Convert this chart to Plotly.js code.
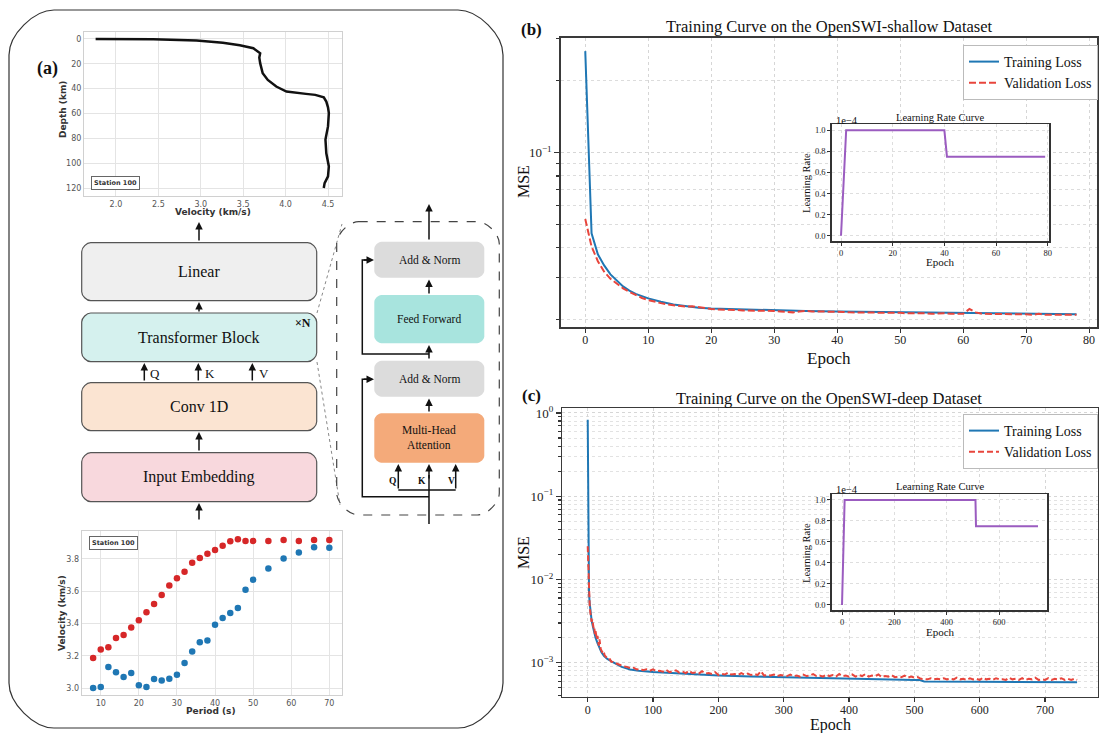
<!DOCTYPE html>
<html>
<head>
<meta charset="utf-8">
<script src="https://cdn.plot.ly/plotly-3.0.1.min.js"></script>
<style>html,body{margin:0;padding:0;background:#fff;}#chart{width:1099px;height:733px;}</style>
</head>
<body>
<div id="chart"></div>
<script>
// ---------------- DATA ----------------
// (a) velocity profile, Station 100
const depthVel = [1.76, 2.44, 2.95, 3.26, 3.46, 3.62, 3.70, 3.69, 3.70, 3.73, 3.79, 3.89, 4.01, 4.12, 4.24, 4.35, 4.40, 4.45, 4.48, 4.50, 4.51, 4.50, 4.47, 4.48, 4.51, 4.50, 4.46, 4.45];
const depthKm  = [0, 0.3, 1.3, 3, 5, 7.5, 11.5, 15, 19.5, 27.6, 33, 38.3, 42.3, 43.5, 44.2, 45.0, 45.8, 47, 50.4, 55, 59.7, 70.4, 81, 92, 102.6, 110.6, 116, 120];
// (a) dispersion curves, Station 100
const periods  = [8, 10, 12, 14, 16, 18, 20, 22, 24, 26, 28, 30, 32, 34, 36, 38, 40, 42, 44, 46, 48, 50, 54, 58, 62, 66, 70];
const phaseVel = [3.187, 3.239, 3.253, 3.31, 3.33, 3.376, 3.42, 3.47, 3.52, 3.576, 3.635, 3.68, 3.72, 3.775, 3.804, 3.83, 3.853, 3.88, 3.907, 3.92, 3.91, 3.91, 3.91, 3.915, 3.91, 3.915, 3.915];
const groupVel = [3.002, 3.008, 3.132, 3.099, 3.07, 3.095, 3.019, 3.008, 3.058, 3.049, 3.06, 3.084, 3.156, 3.228, 3.284, 3.296, 3.393, 3.434, 3.465, 3.496, 3.609, 3.67, 3.74, 3.802, 3.839, 3.87, 3.868];

// (b) OpenSWI-shallow
const shallowTrainEpoch = [0, 1, 2, 3, 4, 5, 6, 7, 8, 10, 12, 14, 16, 18, 20, 25, 30, 35, 40, 45, 50, 55, 60, 65, 70, 75, 78];
const shallowTrainLoss  = [0.266, 0.046, 0.0376, 0.0338, 0.031, 0.0291, 0.0276, 0.0265, 0.0257, 0.0246, 0.0238, 0.0232, 0.0228, 0.0225, 0.0223, 0.0221, 0.0219, 0.0218, 0.0217, 0.0216, 0.0215, 0.0214, 0.0214, 0.0213, 0.0212, 0.0211, 0.0211];
const shallowValEpoch = [0,1,2,3,4,5,6,7,8,9,10,11,12,13,14,15,16,17,18,19,20,21,22,23,24,25,26,27,28,29,30,31,32,33,34,35,36,37,38,39,40,41,42,43,44,45,46,47,48,49,50,51,52,53,54,55,56,57,58,59,60,61,62,63,64,65,66,67,68,69,70,71,72,73,74,75,76,77,78];
const shallowValLoss  = [0.0528,0.0405,0.0352,0.0318,0.0297,0.0283,0.0271,0.0262,0.0254,0.0247,0.0242,0.0238,0.0235,0.0232,0.0230,0.0228,0.0227,0.0228,0.0226,0.0223,0.0222,0.0221,0.0221,0.0220,0.0220,0.0219,0.0219,0.0219,0.0218,0.0218,0.0218,0.0217,0.0216,0.0215,0.0217,0.0218,0.0217,0.0217,0.0216,0.0216,0.0216,0.0216,0.0215,0.0215,0.0215,0.0215,0.0214,0.0215,0.0214,0.0214,0.0214,0.0213,0.0213,0.0214,0.0213,0.0212,0.0213,0.0213,0.0212,0.0212,0.0212,0.0222,0.0215,0.0212,0.0212,0.0211,0.0212,0.0211,0.0211,0.0211,0.0211,0.0210,0.0212,0.0210,0.0210,0.0210,0.0210,0.0210,0.0210];
const shallowLrEpoch = [0, 2, 40, 41, 79];
const shallowLr      = [0, 1.0, 1.0, 0.75, 0.75];

// (c) OpenSWI-deep
const deepTrainEpoch = [0, 1, 2, 3, 4, 5, 6, 8, 10, 12, 15, 18, 21, 25, 30, 37, 45, 52, 65, 78, 100, 125, 170, 200, 250, 300, 350, 400, 450, 500, 508, 515, 600, 700, 749];
const deepTrainLoss  = [0.83, 0.012, 0.0068, 0.0052, 0.0042, 0.0036, 0.0032, 0.0027, 0.0023, 0.0020, 0.00172, 0.0015, 0.00133, 0.0012, 0.00111, 0.00103, 0.00095, 0.00089, 0.00083, 0.0008, 0.00077, 0.00075, 0.00073, 0.0007, 0.00068, 0.000665, 0.00065, 0.00064, 0.00063, 0.00062, 0.00062, 0.000595, 0.00059, 0.000585, 0.00058];
const deepValEpoch = [0,1,2,3,4,5,6,7,8,9,10,11,12,13,14,15,16,17,18,19,20,22,24,26,28,30,32,34,36,38,40,
  45,50,55,60,65,70,75,80,85,90,95,100,105,110,115,120,125,130,135,140,145,150,155,160,165,170,175,180,185,190,195,
  200,205,210,215,220,225,230,235,240,245,250,255,260,265,270,275,280,285,290,295,300,305,310,315,320,325,330,335,340,345,
  350,355,360,365,370,375,380,385,390,395,400,405,410,415,420,425,430,435,440,445,450,455,460,465,470,475,480,485,490,495,
  500,505,510,515,520,525,530,535,540,545,550,555,560,565,570,575,580,585,590,595,600,605,610,615,620,625,630,635,640,645,
  650,655,660,665,670,675,680,685,690,695,700,705,710,715,720,725,730,735,740,745,749];
const deepValLoss = [0.025,0.0105,0.0062,0.0049,0.0040,0.0034,0.0031,0.0033,0.0028,0.0026,0.0027,0.0022,0.0024,0.0020,0.0019,0.0021,0.0017,0.0016,0.0019,0.00155,0.00145,0.00135,0.0014,0.00122,0.00118,0.00112,0.00108,0.0011,0.00103,0.00102,0.00099,
  0.00097,0.00093,0.0009,0.00089,0.00086,0.00087,0.00083,0.00084,0.00081,0.00083,0.0008,0.00083,0.00079,0.0008,0.00078,0.00082,0.00077,0.00078,0.00081,0.00076,0.00078,0.00075,0.0008,0.00075,0.00076,0.00074,0.00079,0.00074,0.00075,0.00073,0.00077,
  0.00071,0.00073,0.00072,0.00076,0.00072,0.00073,0.00071,0.00075,0.00072,0.00074,0.00071,0.00073,0.00071,0.00079,0.0007,0.00071,0.0007,0.00072,0.00069,0.00071,0.0007,0.00069,0.00072,0.00069,0.0007,0.00068,0.00072,0.00069,0.0007,0.00073,
  0.00069,0.0007,0.00068,0.00072,0.00069,0.00071,0.00068,0.00073,0.00069,0.0007,0.00068,0.00072,0.00068,0.00071,0.00069,0.00073,0.00068,0.0007,0.00069,0.00072,0.00067,0.00069,0.00068,0.00071,0.00067,0.00068,0.00067,0.0007,0.00066,0.00068,
  0.00066,0.00067,0.00064,0.00063,0.00063,0.00065,0.00063,0.00064,0.00063,0.00065,0.00063,0.00064,0.00063,0.00066,0.00063,0.00064,0.00062,0.00065,0.00063,0.00064,0.00062,0.00066,0.00063,0.00064,0.00062,0.00065,0.00063,0.00063,0.00062,0.00066,
  0.00063,0.00064,0.00062,0.00065,0.00062,0.00064,0.00063,0.00066,0.00062,0.00063,0.00062,0.00065,0.00062,0.00064,0.00063,0.00065,0.00062,0.00064,0.00062,0.00064,0.00062];
const deepLrEpoch = [0, 10, 510, 512, 749];
const deepLr      = [0, 1.0, 1.0, 0.75, 0.75];

// tick values
const depthXTicks = [2.0, 2.5, 3.0, 3.5, 4.0, 4.5];
const depthYTicks = [0, 20, 40, 60, 80, 100, 120];
const periodTicks = [10, 20, 30, 40, 50, 60, 70];
const dispYTicks  = [3.0, 3.2, 3.4, 3.6, 3.8];
const shallowXTicks = [0, 10, 20, 30, 40, 50, 60, 70, 80];
const shallowYTicks = [0.1];
const shallowYText  = ['10<sup>−1</sup>'];
const shallowYMinor = [0.02, 0.03, 0.04, 0.05, 0.06, 0.07, 0.08, 0.09, 0.2, 0.3];
const deepXTicks = [0, 100, 200, 300, 400, 500, 600, 700];
const deepYTicks = [1, 0.1, 0.01, 0.001];
const deepYText  = ['10<sup>0</sup>', '10<sup>−1</sup>', '10<sup>−2</sup>', '10<sup>−3</sup>'];
const deepYMinor = [0.0004,0.0005,0.0006,0.0007,0.0008,0.0009,0.002,0.003,0.004,0.005,0.006,0.007,0.008,0.009,0.02,0.03,0.04,0.05,0.06,0.07,0.08,0.09,0.2,0.3,0.4,0.5,0.6,0.7,0.8,0.9];
const insetYTicks = [0, 0.2, 0.4, 0.6, 0.8, 1.0];
const shallowInsetXTicks = [0, 20, 40, 60, 80];
const deepInsetXTicks = [0, 200, 400, 600];

// ---------------- HELPERS ----------------
const W = 1099, H = 733;
const X = p => p / W, Y = p => 1 - p / H;
const SERIF = 'Liberation Serif, Times New Roman, serif';
const SANS = 'DejaVu Sans, Arial, sans-serif';

function rr(x0, y0, x1, y1, r) {
  const k = 0.45 * r;
  const P = (x, y) => X(x).toFixed(5) + ',' + Y(y).toFixed(5);
  return 'M' + P(x0 + r, y0) + ' L' + P(x1 - r, y0) +
    ' C' + P(x1 - r + k, y0) + ' ' + P(x1, y0 + r - k) + ' ' + P(x1, y0 + r) +
    ' L' + P(x1, y1 - r) +
    ' C' + P(x1, y1 - r + k) + ' ' + P(x1 - r + k, y1) + ' ' + P(x1 - r, y1) +
    ' L' + P(x0 + r, y1) +
    ' C' + P(x0 + r - k, y1) + ' ' + P(x0, y1 - r + k) + ' ' + P(x0, y1 - r) +
    ' L' + P(x0, y0 + r) +
    ' C' + P(x0, y0 + r - k) + ' ' + P(x0 + r - k, y0) + ' ' + P(x0 + r, y0) + ' Z';
}
function box(x0, y0, x1, y1, r, fill, stroke, width, dash) {
  return {type: 'path', xref: 'paper', yref: 'paper', path: rr(x0, y0, x1, y1, r), fillcolor: fill,
    line: {color: stroke || 'rgba(0,0,0,0)', width: width || 0, dash: dash || 'solid'}, layer: 'above'};
}
function poly(pts, color, width, dash) {
  const s = pts.map((p, i) => (i ? 'L' : 'M') + X(p[0]).toFixed(5) + ',' + Y(p[1]).toFixed(5)).join(' ');
  return {type: 'path', xref: 'paper', yref: 'paper', path: s, line: {color: color || '#111', width: width || 1.5, dash: dash || 'solid'}};
}
function arrow(xt, yt, xh, yh) {
  return {x: X(xh), y: Y(yh), xref: 'paper', yref: 'paper', ax: xt - xh, ay: yt - yh, axref: 'pixel', ayref: 'pixel',
    showarrow: true, arrowhead: 2, arrowsize: 1, arrowwidth: 1.5, arrowcolor: '#111', text: '', standoff: 0};
}
function txt(x, y, text, size, opts) {
  return Object.assign({x: X(x), y: Y(y), xref: 'paper', yref: 'paper', text: text, showarrow: false,
    font: {family: SERIF, size: size, color: '#111'}, xanchor: 'center', yanchor: 'middle'}, opts || {});
}

function leftAx(dom, range, tickvals, fmt, anchor) {
  return {domain: dom, range: range, tickmode: 'array', tickvals: tickvals, tickformat: fmt, anchor: anchor,
    showgrid: true, gridcolor: '#e4e4e4', gridwidth: 1, zeroline: false, showline: true, mirror: true,
    linecolor: '#d0d0d0', linewidth: 1, ticks: '', tickfont: {family: SANS, size: 8, color: '#555'}, fixedrange: true};
}
function mainAx(dom, range, tickvals, anchor, extra) {
  return Object.assign({domain: dom, range: range, tickmode: 'array', tickvals: tickvals, anchor: anchor,
    showgrid: true, gridcolor: '#d6d6d6', griddash: 'dot', gridwidth: 1, zeroline: false,
    showline: true, mirror: true, linecolor: '#3a3a3a', linewidth: 1.5,
    ticks: 'outside', ticklen: 5, tickwidth: 1.2, tickcolor: '#333',
    tickfont: {family: SERIF, size: 13, color: '#222'}, fixedrange: true}, extra || {});
}
function insetAx(dom, range, tickvals, anchor, extra) {
  return Object.assign({domain: dom, range: range, tickmode: 'array', tickvals: tickvals, anchor: anchor,
    showgrid: true, gridcolor: '#dedede', griddash: 'dot', gridwidth: 1, zeroline: false,
    showline: true, mirror: true, linecolor: '#333', linewidth: 1.5,
    ticks: 'outside', ticklen: 3, tickwidth: 1, tickcolor: '#333',
    tickfont: {family: SERIF, size: 8.5, color: '#222'}, fixedrange: true}, extra || {});
}

// ---------------- TRACES ----------------
const BLUE = '#1f77b4', RED = '#e8453c', PURPLE = '#9b5cc0';
const traces = [
  {x: depthVel, y: depthKm, xaxis: 'x', yaxis: 'y', mode: 'lines', line: {color: '#111', width: 2.5}, showlegend: false, hoverinfo: 'skip'},
  {x: periods, y: phaseVel, xaxis: 'x2', yaxis: 'y2', mode: 'markers', marker: {color: '#d62728', size: 6.5}, showlegend: false},
  {x: periods, y: groupVel, xaxis: 'x2', yaxis: 'y2', mode: 'markers', marker: {color: BLUE, size: 6.5}, showlegend: false},
  {x: shallowTrainEpoch, y: shallowTrainLoss, xaxis: 'x3', yaxis: 'y3', mode: 'lines', name: 'Training Loss', legend: 'legend', line: {color: BLUE, width: 2}},
  {x: shallowValEpoch, y: shallowValLoss, xaxis: 'x3', yaxis: 'y3', mode: 'lines', name: 'Validation Loss', legend: 'legend', line: {color: RED, width: 2, dash: '7px,3px'}},
  {x: shallowLrEpoch, y: shallowLr, xaxis: 'x4', yaxis: 'y4', mode: 'lines', line: {color: PURPLE, width: 2}, showlegend: false},
  {x: deepTrainEpoch, y: deepTrainLoss, xaxis: 'x5', yaxis: 'y5', mode: 'lines', name: 'Training Loss', legend: 'legend2', line: {color: BLUE, width: 2}},
  {x: deepValEpoch, y: deepValLoss, xaxis: 'x5', yaxis: 'y5', mode: 'lines', name: 'Validation Loss', legend: 'legend2', line: {color: RED, width: 2, dash: '6px,3px'}},
  {x: deepLrEpoch, y: deepLr, xaxis: 'x6', yaxis: 'y6', mode: 'lines', line: {color: PURPLE, width: 2}, showlegend: false}
];

// ---------------- SHAPES ----------------
const shapes = [
  box(9, 10, 503, 728, 45, 'rgba(0,0,0,0)', '#333', 1.2),
  // left stack
  box(81.7, 242.7, 316.7, 300.7, 9, '#efefef', '#555', 1.2),
  box(81.7, 313, 316.7, 361.7, 9, '#d5f1ee', '#555', 1.2),
  box(81.7, 382.7, 316.7, 430.7, 9, '#fbe4d2', '#555', 1.2),
  box(81.7, 452.7, 316.7, 501.7, 9, '#f8d8dd', '#555', 1.2),
  // zoom dotted lines
  poly([[317, 313], [342, 224]], '#888', 1, 'dot'),
  poly([[317, 362], [340, 505]], '#888', 1, 'dot'),
  // dashed transformer detail box
  box(336.7, 221.7, 499.3, 515, 22, 'rgba(0,0,0,0)', '#444', 1.2, 'dash'),
  box(374.3, 241.7, 484.3, 277.7, 7, '#dcdcdc'),
  box(374.3, 295, 484.3, 343.3, 7, '#a8e4de'),
  box(374.3, 360.7, 484.3, 396.7, 7, '#dcdcdc'),
  box(374.3, 413.3, 484.3, 462.7, 7, '#f4aa7a'),
  // input line + QKV split
  poly([[429, 524], [429, 475]], '#111', 1.5),
  poly([[398.3, 490], [455.7, 490]], '#111', 1.5),
  // residual connections
  poly([[429, 496.7], [362.3, 496.7], [362.3, 379.3], [368, 379.3]], '#111', 1.5),
  poly([[429, 354], [362.3, 354], [362.3, 260], [368, 260]], '#111', 1.5)
];

// ---------------- ANNOTATIONS ----------------
const ann = [
  txt(47, 68, '<b>(a)</b>', 18),
  // depth plot labels
  txt(63, 110, '<b>Depth (km)</b>', 9, {font: {family: SANS, size: 9, color: '#333'}, textangle: -90}),
  txt(212.5, 212, '<b>Velocity (km/s)</b>', 9, {font: {family: SANS, size: 9, color: '#333'}}),
  txt(115.5, 183, '<b>Station 100</b>', 6.5, {font: {family: SANS, size: 6.5, color: '#333'}, bordercolor: '#666', borderwidth: 1, borderpad: 2, bgcolor: '#fff'}),
  // dispersion labels
  txt(62, 613, '<b>Velocity (km/s)</b>', 9, {font: {family: SANS, size: 9, color: '#333'}, textangle: -90}),
  txt(211, 711, '<b>Period (s)</b>', 9, {font: {family: SANS, size: 9, color: '#333'}}),
  txt(113, 543, '<b>Station 100</b>', 6.5, {font: {family: SANS, size: 6.5, color: '#333'}, bordercolor: '#666', borderwidth: 1, borderpad: 2, bgcolor: '#fff'}),
  // block texts
  txt(199, 271.7, 'Linear', 16),
  txt(199, 337.5, 'Transformer Block', 16),
  txt(303, 323, '<b>×N</b>', 12),
  txt(199, 406.7, 'Conv 1D', 16),
  txt(199, 477.2, 'Input Embedding', 16),
  txt(155, 373, 'Q', 13),
  txt(210, 373, 'K', 13),
  txt(264, 373, 'V', 13),
  arrow(199, 521, 199, 503),
  arrow(199, 452, 199, 432),
  arrow(144.3, 382, 144.3, 363),
  arrow(198.3, 382, 198.3, 363),
  arrow(252.3, 382, 252.3, 363),
  arrow(199, 313, 199, 302),
  arrow(199, 242, 199, 222),
  // detail block
  txt(429, 259.7, 'Add &amp; Norm', 11.5),
  txt(429, 319.2, 'Feed Forward', 11.5),
  txt(429, 378.7, 'Add &amp; Norm', 11.5),
  txt(429, 438, 'Multi-Head<br>Attention', 11.5),
  txt(392, 481, '<b>Q</b>', 9.5),
  txt(422, 481, '<b>K</b>', 9.5),
  txt(451.5, 481, '<b>V</b>', 9.5),
  arrow(429, 480, 429, 464),
  arrow(398.3, 490, 398.3, 464),
  arrow(455.7, 490, 455.7, 464),
  arrow(429, 413, 429, 398.5),
  arrow(429, 360, 429, 345),
  arrow(429, 295, 429, 279.5),
  arrow(429, 241, 429, 204),
  arrow(362.3, 379.3, 374, 379.3),
  arrow(362.3, 260, 374, 260),
  // panel b
  txt(531, 30, '<b>(b)</b>', 17),
  txt(829, 27, 'Training Curve on the OpenSWI-shallow Dataset', 16.5),
  txt(523, 182, 'MSE', 16, {textangle: -90}),
  txt(829, 358, 'Epoch', 17),
  txt(940, 117.3, 'Learning Rate Curve', 10.5),
  txt(834, 120.5, '1e−4', 10.5, {xanchor: 'left'}),
  txt(806, 183, 'Learning Rate', 10.5, {textangle: -90}),
  txt(940, 262, 'Epoch', 11),
  // panel c
  txt(531, 395, '<b>(c)</b>', 17),
  txt(829, 398, 'Training Curve on the OpenSWI-deep Dataset', 16.5),
  txt(523, 553, 'MSE', 16, {textangle: -90}),
  txt(830, 725, 'Epoch', 16),
  txt(940, 486.7, 'Learning Rate Curve', 10.5),
  txt(834, 489.5, '1e−4', 10.5, {xanchor: 'left'}),
  txt(806, 553, 'Learning Rate', 10.5, {textangle: -90}),
  txt(940, 632, 'Epoch', 11)
];

// ---------------- LAYOUT ----------------
const legendStyle = {xanchor: 'left', yanchor: 'top', bgcolor: '#fff', bordercolor: '#bbb', borderwidth: 1,
  font: {family: SERIF, size: 14, color: '#111'}, itemwidth: 30, tracegroupgap: 0};
const xTickSmall = {ticklen: 4, ticklabelstandoff: -3, tickfont: {family: SERIF, size: 12, color: '#222'}};

const layout = {
  width: W, height: H, margin: {l: 0, r: 0, t: 0, b: 0},
  paper_bgcolor: '#fff', plot_bgcolor: '#fff', showlegend: true,
  xaxis:  leftAx([X(84), X(342)], [1.623, 4.665], depthXTicks, '.1f', 'y'),
  yaxis:  leftAx([Y(196), Y(32)], [126.4, -5.6], depthYTicks, 'd', 'x'),
  xaxis2: leftAx([X(81.7), X(341.7)], [5.0, 73.25], periodTicks, 'd', 'y2'),
  yaxis2: leftAx([Y(695), Y(531)], [2.959, 3.971], dispYTicks, '.1f', 'x2'),
  xaxis3: mainAx([X(560.7), X(1097.3)], [-3.9, 81.3], shallowXTicks, 'y3', xTickSmall),
  yaxis3: mainAx([Y(327.3), Y(37.7)], [-1.730, -0.519], shallowYTicks, 'x3',
    {type: 'log', ticktext: shallowYText,
     minor: {tickmode: 'array', tickvals: shallowYMinor, ticks: 'outside', ticklen: 3, tickcolor: '#333', showgrid: true, gridcolor: '#dcdcdc', griddash: 'dot'}}),
  xaxis4: insetAx([X(831.7), X(1049.3)], [-3.6, 80.6], shallowInsetXTicks, 'y4'),
  yaxis4: insetAx([Y(241), Y(124.3)], [-0.05, 1.057], insetYTicks, 'x4', {tickformat: '.1f'}),
  xaxis5: mainAx([X(562.3), X(1098)], [-38.9, 781], deepXTicks, 'y5', xTickSmall),
  yaxis5: mainAx([Y(696.7), Y(408)], [-3.409, 0.06], deepYTicks, 'x5',
    {type: 'log', ticktext: deepYText,
     minor: {tickmode: 'array', tickvals: deepYMinor, ticks: 'outside', ticklen: 3, tickcolor: '#333', showgrid: true, gridcolor: '#e2e2e2', griddash: 'dot'}}),
  xaxis6: insetAx([X(831.7), X(1047.3)], [-39.4, 784.5], deepInsetXTicks, 'y6'),
  yaxis6: insetAx([Y(610), Y(494)], [-0.048, 1.057], insetYTicks, 'x6', {tickformat: '.1f'}),
  legend:  Object.assign({x: X(963), y: Y(45)}, legendStyle),
  legend2: Object.assign({x: X(963), y: Y(414)}, legendStyle),
  shapes: shapes,
  annotations: ann
};

Plotly.newPlot('chart', traces, layout, {staticPlot: true, displayModeBar: false});
</script>
</body>
</html>
